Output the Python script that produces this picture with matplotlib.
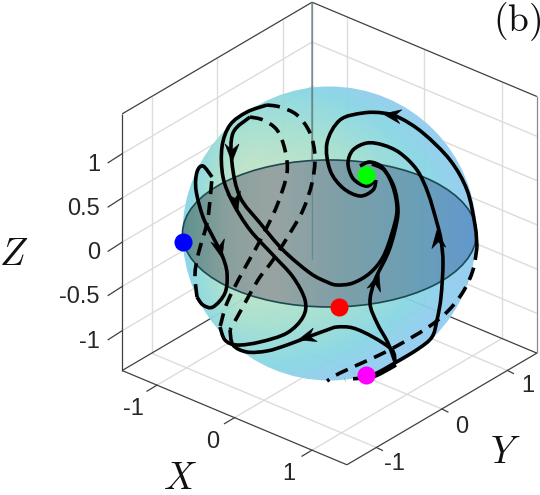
import numpy as np
import matplotlib
matplotlib.use("Agg")
import matplotlib.pyplot as plt
from matplotlib.path import Path
from matplotlib.patches import PathPatch, Circle, Ellipse, Polygon
from matplotlib.colors import LinearSegmentedColormap

plt.rcParams['font.family'] = ['Liberation Sans', 'DejaVu Sans']
plt.rcParams['mathtext.fontset'] = 'cm'

# axis ticks
x_ticks = [-1, 0, 1]
y_ticks = [-1, 0, 1]
z_ticks = [-1, -0.5, 0, 0.5, 1]
z_labels = ['-1', '-0.5', '0', '0.5', '1']
lim = 1.45

# fixed points, picture position
blue_pt = (183, 242)
green_pt = (366, 175)
red_pt = (339, 307)
magenta_pt = (366, 375)

# trajectories (px, px)
solid_inner_spiral = [(366, 378), (377, 373), (393, 364), (418, 349), (432, 337), (437, 320),
                      (441, 297), (443, 263), (441, 240), (437, 223), (428, 193), (417, 170),
                      (400, 153), (383, 145), (367, 143), (353, 150), (348, 163), (352, 177),
                      (360, 184), (368, 186), (374, 181)]
solid_outer_spiral = [(477, 247), (475, 225), (467, 190), (450, 160), (423, 133), (400, 118),
                      (383, 113), (363, 113), (340, 120), (327, 143), (330, 170), (343, 188),
                      (360, 196), (373, 190), (376, 180)]
solid_a = [(250, 117), (233, 133), (232, 163), (240, 197), (260, 223), (283, 250), (310, 273),
           (327, 282), (337, 285), (353, 283), (370, 273), (383, 257), (392, 233), (397, 210),
           (393, 187), (383, 168), (370, 162), (360, 166)]
solid_b = [(395, 362), (388, 343), (377, 323), (370, 303), (375, 280), (388, 253), (395, 230),
           (398, 210), (394, 187), (384, 170), (372, 164)]
solid_c = [(395, 362), (392, 350), (373, 337), (353, 328), (337, 327), (327, 330), (308, 337),
           (287, 345), (267, 351), (247, 352), (233, 345), (230, 330)]
solid_d = [(267, 105), (247, 112), (230, 125), (222, 147), (223, 177), (233, 203), (250, 230),
           (273, 255), (293, 277), (305, 300), (303, 317), (287, 333), (260, 342), (237, 345),
           (225, 340), (220, 327)]
solid_left = [(212, 177), (203, 166), (197, 172), (196, 190), (203, 217), (213, 237), (222, 255),
              (227, 273), (225, 293), (213, 307), (203, 305), (197, 297)]
solid_thick = [(366, 380), (380, 374), (396, 365)]

dashed_left = [(197, 297), (195, 275), (198, 255), (207, 223), (210, 200), (212, 177)]
dashed_outer = [(267, 105), (280, 107), (297, 115), (310, 133), (315, 157), (312, 183), (303, 210),
                (290, 233), (273, 260), (258, 280), (240, 312), (230, 330)]
dashed_inner = [(250, 117), (263, 120), (277, 130), (285, 150), (287, 173), (278, 203), (267, 227),
                (255, 250), (242, 273), (227, 303), (220, 327)]
dashed_edge = [(477, 247), (473, 270), (463, 292), (447, 312), (427, 328), (395, 347), (373, 358),
               (340, 373), (327, 381)]
dashed_low = [(366, 378), (350, 379), (345, 380)]

# arrow heads: tip and heading
arrows = [((383, 114), (-1, -0.15)), ((437, 230), (-0.1, -1)), ((379, 273), (0.3, -1)),
          ((298, 340), (-1, 0.3)), ((232, 162), (0, 1)), ((238, 210), (0.25, 1)),
          ((222, 258), (0.25, 1))]


def proj(x, y, z):
    # orthographic view of the box, gives picture pixels
    return (329.5 + 77.5 * x + 65.5 * y, 233.5 + 32.5 * x - 38.5 * y - 88.5 * z)


def seg(ax, a, b, color, lw, z=1, alpha=None):
    pa, pb = proj(*a), proj(*b)
    ax.plot([pa[0], pb[0]], [pa[1], pb[1]], color=color, lw=lw, zorder=z, alpha=alpha,
            solid_capstyle='butt')


def smooth(pts):
    # Catmull-Rom through the read points, as bezier path
    p = np.array(pts, dtype=float)
    p = np.vstack([p[0], p, p[-1]])
    verts = [p[1]]
    codes = [Path.MOVETO]
    for i in range(1, len(p) - 2):
        verts += [p[i] + (p[i + 1] - p[i - 1]) / 6, p[i + 1] - (p[i + 2] - p[i]) / 6, p[i + 1]]
        codes += [Path.CURVE4] * 3
    return Path(verts, codes)


def curve(ax, pts, dashed=False):
    ls = (0, (3.6, 2.2)) if dashed else '-'
    ax.add_patch(PathPatch(smooth(pts), fill=False, ec='black', lw=2.6, ls=ls,
                           capstyle='butt', zorder=5 if dashed else 6))


def arrow(ax, tip, heading):
    d = np.array(heading, dtype=float)
    d /= np.hypot(*d)
    n = np.array([-d[1], d[0]])
    t = np.array(tip, dtype=float)
    shape = [t, t - 18 * d + 7 * n, t - 12 * d, t - 18 * d - 7 * n]
    ax.add_patch(Polygon(shape, closed=True, fc='black', ec='black', lw=0.4, zorder=7))


fig = plt.figure(figsize=(5.4, 4.95), dpi=100)
ax = fig.add_axes([0, 0, 1, 1])
ax.axis('off')

grid_c = '#dcdcdc'
box_c = '#404040'

# grids on the two back walls and the floor
for v in z_ticks:
    seg(ax, (-lim, -lim, v), (-lim, lim, v), grid_c, 1.0)
    seg(ax, (-lim, lim, v), (lim, lim, v), grid_c, 1.0)
for v in y_ticks:
    seg(ax, (-lim, v, -lim), (-lim, v, lim), grid_c, 1.0)
    seg(ax, (-lim, v, -lim), (lim, v, -lim), grid_c, 1.0)
for v in x_ticks:
    seg(ax, (v, lim, -lim), (v, lim, lim), grid_c, 1.0)
    seg(ax, (v, -lim, -lim), (v, lim, -lim), grid_c, 1.0)

# box edges
seg(ax, (-lim, -lim, -lim), (-lim, -lim, lim), box_c, 0.9, 2)
seg(ax, (-lim, -lim, lim), (-lim, lim, lim), box_c, 0.9, 2)
seg(ax, (-lim, lim, lim), (lim, lim, lim), box_c, 0.9, 2)
seg(ax, (lim, lim, -lim), (lim, lim, lim), '#8a8a8a', 0.9, 2)
seg(ax, (-lim, -lim, -lim), (lim, -lim, -lim), box_c, 0.9, 2)
seg(ax, (lim, -lim, -lim), (lim, lim, -lim), box_c, 0.9, 2)
seg(ax, (-lim, -lim, -lim), (-lim, lim, -lim), box_c, 0.9, 2)
seg(ax, (-lim, lim, -lim), (lim, lim, -lim), box_c, 0.9, 2)
seg(ax, (-lim, lim, -lim), (-lim, lim, lim), '#707070', 1.3, 4, alpha=0.6)

# sphere, colour runs from pale green left of centre out to blue
cx, cy = proj(0, 0, 0)
r_px = 147
extent = (170, 490, 395, 75)
gx, gy = np.meshgrid(np.arange(170, 490), np.arange(75, 395))
dx = gx - 255.0
t = np.sqrt((np.where(dx < 0, dx / 80, dx / 215)) ** 2 + ((gy - 225.0) / 165) ** 2)
cmap = LinearSegmentedColormap.from_list('sph', [(0, '#dce4bc'), (0.3, '#c6e3c6'), (0.6, '#a4e0d0'),
                                                 (0.85, '#88d6e4'), (1, '#92cdf0')])
im = ax.imshow(np.clip(t, 0, 1), cmap=cmap, vmin=0, vmax=1, extent=extent,
               zorder=3, alpha=0.95, aspect='auto', interpolation='bilinear')
im.set_clip_path(Circle((cx, cy), r_px, transform=ax.transData))

# equator disk, greyer on the left and bluer on the right
disk_cmap = LinearSegmentedColormap.from_list('disk', [(0, '#5f928f'), (0.15, '#8aa09e'), (0.3, '#98a4a2'),
                                                       (0.55, '#7c9fa8'), (0.8, '#6a9fb8'), (1, '#6298cf')])
disk = ax.imshow((gx - 183.0) / 294.0, cmap=disk_cmap, vmin=0, vmax=1, extent=extent,
                 zorder=4, aspect='auto', interpolation='bilinear')
disk_shape = Ellipse((cx, cy), 2 * r_px, r_px, transform=ax.transData)
disk.set_clip_path(disk_shape)
ax.add_patch(Ellipse((cx, cy), 2 * r_px, r_px, fc='none', ec='#1c4a50', lw=1.2, zorder=4.5))
seg(ax, (-lim, lim, -lim), (-lim, lim, lim), '#5a8088', 1.0, 4.2, alpha=0.7)
ax.set_xlim(0, 540)
ax.set_ylim(495, 0)

for c in [solid_inner_spiral, solid_outer_spiral, solid_a, solid_b, solid_c, solid_d, solid_left,
          solid_thick]:
    curve(ax, c)
for c in [dashed_left, dashed_outer, dashed_inner, dashed_edge, dashed_low]:
    curve(ax, c, dashed=True)
for tip, heading in arrows:
    arrow(ax, tip, heading)

for pt, col in [(blue_pt, '#0000ff'), (green_pt, '#00ff00'), (red_pt, '#ff0000'), (magenta_pt, '#ff00ff')]:
    ax.plot(pt[0], pt[1], 'o', color=col, ms=13, mew=0, zorder=8)

# tick marks and labels
tick_c = '#404040'
for v, lab in zip(z_ticks, z_labels):
    p = proj(-lim, -lim, v)
    ax.plot([p[0], p[0] - 14], [p[1], p[1] + 9], color=tick_c, lw=0.9, zorder=2)
    ax.text(100, p[1] + 11, lab, ha='right', va='center', fontsize=17, color='#262626')
for v, off in zip(x_ticks, [(-24, 24), (-22, 24), (-23, 24)]):
    p = proj(v, -lim, -lim)
    ax.plot([p[0], p[0] - 10], [p[1], p[1] + 6], color=tick_c, lw=0.9, zorder=2)
    ax.text(p[0] + off[0], p[1] + off[1], str(v), ha='center', va='center', fontsize=17, color='#262626')
for v, off in zip(y_ticks, [(18, 17), (20, 18), (20, 16)]):
    p = proj(lim, v, -lim)
    ax.plot([p[0], p[0] + 6], [p[1], p[1] + 3], color=tick_c, lw=0.9, zorder=2)
    ax.text(p[0] + off[0], p[1] + off[1], str(v), ha='center', va='center', fontsize=17, color='#262626')

ax.text(14, 255, r'$Z$', ha='center', va='center', fontsize=27, color='#111111')
ax.text(180, 479, r'$X$', ha='center', va='center', fontsize=27, color='#111111')
ax.text(505, 453, r'$Y$', ha='center', va='center', fontsize=27, color='#111111')
ax.text(517, 22, r'$\mathrm{(b)}$', ha='center', va='center', fontsize=27, color='#111111')

fig.savefig('out.png', dpi=100)
plt.close(fig)
